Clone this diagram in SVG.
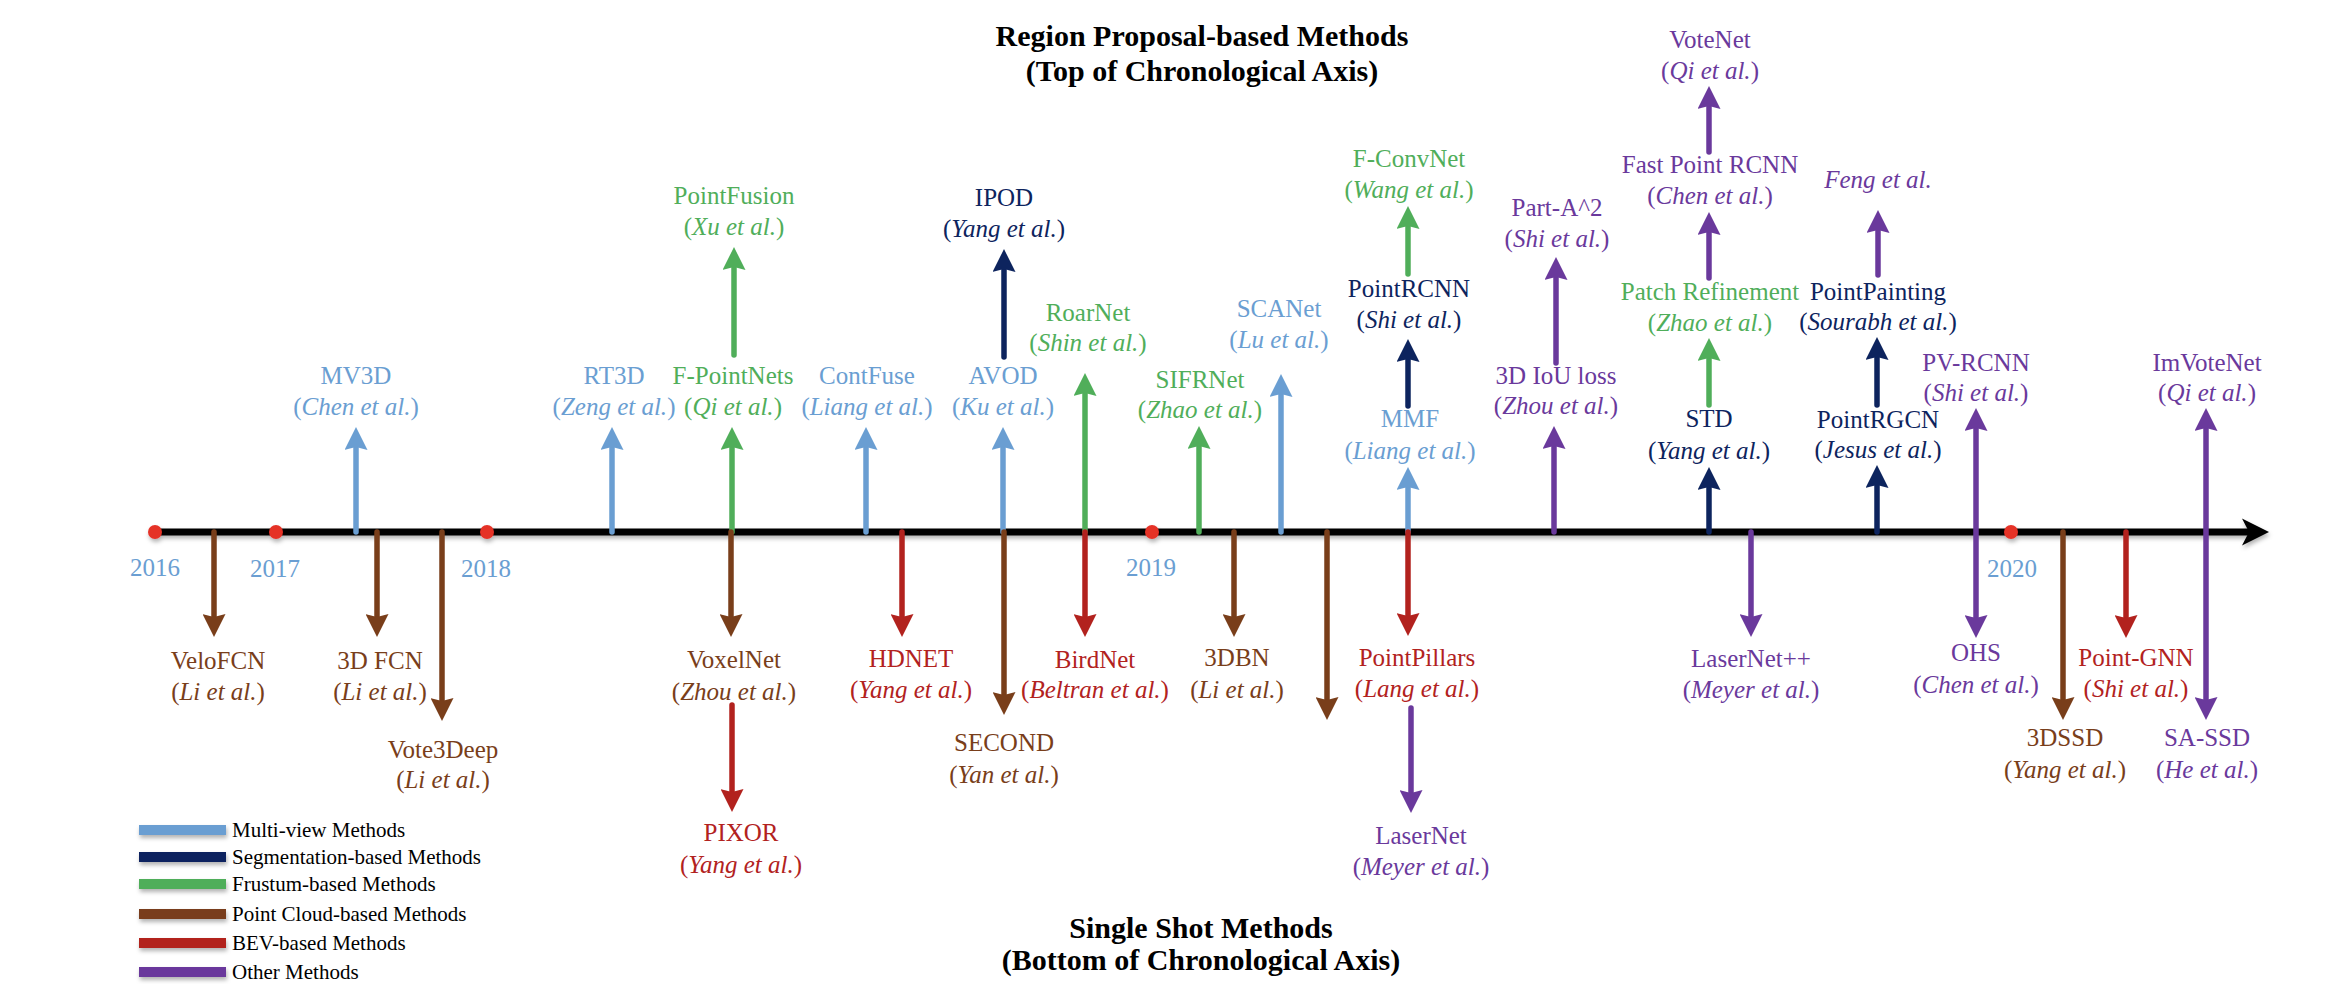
<svg xmlns="http://www.w3.org/2000/svg" width="2334" height="984" viewBox="0 0 2334 984">
<style>
text{font-family:"Liberation Serif","Times New Roman",serif}
.lbl{font-size:25px;text-anchor:middle}
.ttl{font-size:30px;font-weight:bold;text-anchor:middle;fill:#000}
.leg{font-size:21px;fill:#000}
.yr{font-size:25px;text-anchor:middle;fill:#6A9ED2}
.it{font-style:italic}
.mv{fill:#6A9ED2}.seg{fill:#0D245E}.fru{fill:#50AE5A}.pc{fill:#793E1A}.bev{fill:#B2221E}.oth{fill:#6A399C}
.a{stroke-width:5.5;stroke-linecap:round;fill:none}
.a.mv{stroke:#6A9ED2;fill:none}.a.seg{stroke:#0D245E;fill:none}.a.fru{stroke:#50AE5A;fill:none}.a.pc{stroke:#793E1A;fill:none}.a.bev{stroke:#B2221E;fill:none}.a.oth{stroke:#6A399C;fill:none}
.a.mv{marker-end:url(#h-mv)}.a.seg{marker-end:url(#h-seg)}.a.fru{marker-end:url(#h-fru)}.a.pc{marker-end:url(#h-pc)}.a.bev{marker-end:url(#h-bev)}.a.oth{marker-end:url(#h-oth)}
.dbl{marker-start:url(#h-oth)}
.dot{fill:#E53228}
</style>
<defs>
<filter id="sh" x="-10%" y="-50%" width="120%" height="250%"><feDropShadow dx="1" dy="3" stdDeviation="2" flood-color="#000" flood-opacity="0.3"/></filter>
<marker id="h-mv" viewBox="0 0 23 23" markerWidth="23" markerHeight="23" refX="13" refY="11.5" orient="auto-start-reverse" markerUnits="userSpaceOnUse"><path d="M0,0 L23,11.5 L0,23 L3,11.5 z" fill="#6A9ED2"/></marker>
<marker id="h-seg" viewBox="0 0 23 23" markerWidth="23" markerHeight="23" refX="13" refY="11.5" orient="auto-start-reverse" markerUnits="userSpaceOnUse"><path d="M0,0 L23,11.5 L0,23 L3,11.5 z" fill="#0D245E"/></marker>
<marker id="h-fru" viewBox="0 0 23 23" markerWidth="23" markerHeight="23" refX="13" refY="11.5" orient="auto-start-reverse" markerUnits="userSpaceOnUse"><path d="M0,0 L23,11.5 L0,23 L3,11.5 z" fill="#50AE5A"/></marker>
<marker id="h-pc" viewBox="0 0 23 23" markerWidth="23" markerHeight="23" refX="13" refY="11.5" orient="auto-start-reverse" markerUnits="userSpaceOnUse"><path d="M0,0 L23,11.5 L0,23 L3,11.5 z" fill="#793E1A"/></marker>
<marker id="h-bev" viewBox="0 0 23 23" markerWidth="23" markerHeight="23" refX="13" refY="11.5" orient="auto-start-reverse" markerUnits="userSpaceOnUse"><path d="M0,0 L23,11.5 L0,23 L3,11.5 z" fill="#B2221E"/></marker>
<marker id="h-oth" viewBox="0 0 23 23" markerWidth="23" markerHeight="23" refX="13" refY="11.5" orient="auto-start-reverse" markerUnits="userSpaceOnUse"><path d="M0,0 L23,11.5 L0,23 L3,11.5 z" fill="#6A399C"/></marker>
</defs>
<rect width="2334" height="984" fill="#fff"/>

<g id="titles">
<text class="ttl" x="1202" y="46">Region Proposal-based Methods</text>
<text class="ttl" x="1202" y="81">(Top of Chronological Axis)</text>
<text class="ttl" x="1201" y="938">Single Shot Methods</text>
<text class="ttl" x="1201" y="970">(Bottom of Chronological Axis)</text>
</g>

<g id="axis" filter="url(#sh)">
<line x1="155" y1="532" x2="2252" y2="532" stroke="#000" stroke-width="7"/>
<polygon points="2269,532 2242,518.5 2249,532 2242,545.5" fill="#000"/>
<circle class="dot" cx="155" cy="532" r="7"/>
<circle class="dot" cx="276" cy="532" r="7"/>
<circle class="dot" cx="487" cy="532" r="7"/>
<circle class="dot" cx="1152" cy="532" r="7"/>
<circle class="dot" cx="2011" cy="532" r="7"/>
</g>
<g id="years">
<text class="yr" x="155" y="576">2016</text>
<text class="yr" x="275" y="577">2017</text>
<text class="yr" x="486" y="577">2018</text>
<text class="yr" x="1151" y="576">2019</text>
<text class="yr" x="2012" y="577">2020</text>
</g>

<g id="connectors">
<!-- up arrows -->
<line class="a mv" x1="356" y1="532" x2="356" y2="437"/>
<line class="a mv" x1="612" y1="532" x2="612" y2="437"/>
<line class="a fru" x1="732" y1="532" x2="732" y2="437"/>
<line class="a fru" x1="734" y1="355" x2="734" y2="257"/>
<line class="a mv" x1="866" y1="532" x2="866" y2="437"/>
<line class="a mv" x1="1003" y1="532" x2="1003" y2="437"/>
<line class="a seg" x1="1004" y1="357" x2="1004" y2="259"/>
<line class="a fru" x1="1085" y1="532" x2="1085" y2="383"/>
<line class="a fru" x1="1199" y1="532" x2="1199" y2="436"/>
<line class="a mv" x1="1281" y1="532" x2="1281" y2="384"/>
<line class="a mv" x1="1408" y1="532" x2="1408" y2="477"/>
<line class="a seg" x1="1408" y1="406" x2="1408" y2="349"/>
<line class="a fru" x1="1408" y1="274" x2="1408" y2="216"/>
<line class="a oth" x1="1554" y1="532" x2="1554" y2="436"/>
<line class="a oth" x1="1556" y1="363" x2="1556" y2="267"/>
<line class="a seg" x1="1709" y1="532" x2="1709" y2="477"/>
<line class="a fru" x1="1709" y1="405" x2="1709" y2="348"/>
<line class="a oth" x1="1709" y1="278" x2="1709" y2="222"/>
<line class="a oth" x1="1709" y1="152" x2="1709" y2="96"/>
<line class="a seg" x1="1877" y1="532" x2="1877" y2="475"/>
<line class="a seg" x1="1877" y1="405" x2="1877" y2="347"/>
<line class="a oth" x1="1878" y1="275" x2="1878" y2="220"/>
<!-- double arrows -->
<line class="a oth dbl" x1="1976" y1="418" x2="1976" y2="628"/>
<line class="a oth dbl" x1="2206" y1="418" x2="2206" y2="710"/>
<!-- down arrows -->
<line class="a pc" x1="214" y1="532" x2="214" y2="627"/>
<line class="a pc" x1="377" y1="532" x2="377" y2="627"/>
<line class="a pc" x1="442" y1="532" x2="442" y2="711"/>
<line class="a pc" x1="731" y1="532" x2="731" y2="627"/>
<line class="a bev" x1="732" y1="705" x2="732" y2="802"/>
<line class="a bev" x1="902" y1="532" x2="902" y2="627"/>
<line class="a pc" x1="1004" y1="532" x2="1004" y2="705"/>
<line class="a bev" x1="1085" y1="532" x2="1085" y2="627"/>
<line class="a pc" x1="1234" y1="532" x2="1234" y2="627"/>
<line class="a pc" x1="1327" y1="532" x2="1327" y2="710"/>
<line class="a bev" x1="1408" y1="532" x2="1408" y2="626"/>
<line class="a oth" x1="1411" y1="708" x2="1411" y2="803"/>
<line class="a oth" x1="1751" y1="532" x2="1751" y2="627"/>
<line class="a pc" x1="2063" y1="532" x2="2063" y2="710"/>
<line class="a bev" x1="2126" y1="532" x2="2126" y2="628"/>
</g>

<!-- top nodes -->
<g id="MV3D"><text class="lbl mv" x="356" y="384">MV3D</text><text class="lbl mv" x="356" y="415">(<tspan class="it">Chen et al.</tspan>)</text></g>
<g id="RT3D"><text class="lbl mv" x="614" y="384">RT3D</text><text class="lbl mv" x="614" y="415">(<tspan class="it">Zeng et al.</tspan>)</text></g>
<g id="F-PointNets"><text class="lbl fru" x="733" y="384">F-PointNets</text><text class="lbl fru" x="733" y="415">(<tspan class="it">Qi et al.</tspan>)</text></g>
<g id="PointFusion"><text class="lbl fru" x="734" y="204">PointFusion</text><text class="lbl fru" x="734" y="235">(<tspan class="it">Xu et al.</tspan>)</text></g>
<g id="ContFuse"><text class="lbl mv" x="867" y="384">ContFuse</text><text class="lbl mv" x="867" y="415">(<tspan class="it">Liang et al.</tspan>)</text></g>
<g id="AVOD"><text class="lbl mv" x="1003" y="384">AVOD</text><text class="lbl mv" x="1003" y="415">(<tspan class="it">Ku et al.</tspan>)</text></g>
<g id="IPOD"><text class="lbl seg" x="1004" y="206">IPOD</text><text class="lbl seg" x="1004" y="237">(<tspan class="it">Yang et al.</tspan>)</text></g>
<g id="RoarNet"><text class="lbl fru" x="1088" y="321">RoarNet</text><text class="lbl fru" x="1088" y="351">(<tspan class="it">Shin et al.</tspan>)</text></g>
<g id="SIFRNet"><text class="lbl fru" x="1200" y="388">SIFRNet</text><text class="lbl fru" x="1200" y="418">(<tspan class="it">Zhao et al.</tspan>)</text></g>
<g id="SCANet"><text class="lbl mv" x="1279" y="317">SCANet</text><text class="lbl mv" x="1279" y="348">(<tspan class="it">Lu et al.</tspan>)</text></g>
<g id="MMF"><text class="lbl mv" x="1410" y="427">MMF</text><text class="lbl mv" x="1410" y="459">(<tspan class="it">Liang et al.</tspan>)</text></g>
<g id="PointRCNN"><text class="lbl seg" x="1409" y="297">PointRCNN</text><text class="lbl seg" x="1409" y="328">(<tspan class="it">Shi et al.</tspan>)</text></g>
<g id="F-ConvNet"><text class="lbl fru" x="1409" y="167">F-ConvNet</text><text class="lbl fru" x="1409" y="198">(<tspan class="it">Wang et al.</tspan>)</text></g>
<g id="IoULoss"><text class="lbl oth" x="1556" y="384">3D IoU loss</text><text class="lbl oth" x="1556" y="414">(<tspan class="it">Zhou et al.</tspan>)</text></g>
<g id="PartA2"><text class="lbl oth" x="1557" y="216">Part-A^2</text><text class="lbl oth" x="1557" y="247">(<tspan class="it">Shi et al.</tspan>)</text></g>
<g id="STD"><text class="lbl seg" x="1709" y="427">STD</text><text class="lbl seg" x="1709" y="459">(<tspan class="it">Yang et al.</tspan>)</text></g>
<g id="PatchRefinement"><text class="lbl fru" x="1710" y="300">Patch Refinement</text><text class="lbl fru" x="1710" y="331">(<tspan class="it">Zhao et al.</tspan>)</text></g>
<g id="FastPointRCNN"><text class="lbl oth" x="1710" y="173">Fast Point RCNN</text><text class="lbl oth" x="1710" y="204">(<tspan class="it">Chen et al.</tspan>)</text></g>
<g id="VoteNet"><text class="lbl oth" x="1710" y="48">VoteNet</text><text class="lbl oth" x="1710" y="79">(<tspan class="it">Qi et al.</tspan>)</text></g>
<g id="PointRGCN"><text class="lbl seg" x="1878" y="428">PointRGCN</text><text class="lbl seg" x="1878" y="458">(<tspan class="it">Jesus et al.</tspan>)</text></g>
<g id="PointPainting"><text class="lbl seg" x="1878" y="300">PointPainting</text><text class="lbl seg" x="1878" y="330">(<tspan class="it">Sourabh et al.</tspan>)</text></g>
<g id="Feng"><text class="lbl oth it" x="1878" y="188">Feng et al.</text></g>
<g id="PV-RCNN"><text class="lbl oth" x="1976" y="371">PV-RCNN</text><text class="lbl oth" x="1976" y="401">(<tspan class="it">Shi et al.</tspan>)</text></g>
<g id="ImVoteNet"><text class="lbl oth" x="2207" y="371">ImVoteNet</text><text class="lbl oth" x="2207" y="401">(<tspan class="it">Qi et al.</tspan>)</text></g>

<!-- bottom nodes -->
<g id="VeloFCN"><text class="lbl pc" x="218" y="669">VeloFCN</text><text class="lbl pc" x="218" y="700">(<tspan class="it">Li et al.</tspan>)</text></g>
<g id="FCN3D"><text class="lbl pc" x="380" y="669">3D FCN</text><text class="lbl pc" x="380" y="700">(<tspan class="it">Li et al.</tspan>)</text></g>
<g id="Vote3Deep"><text class="lbl pc" x="443" y="758">Vote3Deep</text><text class="lbl pc" x="443" y="788">(<tspan class="it">Li et al.</tspan>)</text></g>
<g id="VoxelNet"><text class="lbl pc" x="734" y="668">VoxelNet</text><text class="lbl pc" x="734" y="700">(<tspan class="it">Zhou et al.</tspan>)</text></g>
<g id="PIXOR"><text class="lbl bev" x="741" y="841">PIXOR</text><text class="lbl bev" x="741" y="873">(<tspan class="it">Yang et al.</tspan>)</text></g>
<g id="HDNET"><text class="lbl bev" x="911" y="667">HDNET</text><text class="lbl bev" x="911" y="698">(<tspan class="it">Yang et al.</tspan>)</text></g>
<g id="SECOND"><text class="lbl pc" x="1004" y="751">SECOND</text><text class="lbl pc" x="1004" y="783">(<tspan class="it">Yan et al.</tspan>)</text></g>
<g id="BirdNet"><text class="lbl bev" x="1095" y="668">BirdNet</text><text class="lbl bev" x="1095" y="698">(<tspan class="it">Beltran et al.</tspan>)</text></g>
<g id="DBN3"><text class="lbl pc" x="1237" y="666">3DBN</text><text class="lbl pc" x="1237" y="698">(<tspan class="it">Li et al.</tspan>)</text></g>
<g id="PointPillars"><text class="lbl bev" x="1417" y="666">PointPillars</text><text class="lbl bev" x="1417" y="697">(<tspan class="it">Lang et al.</tspan>)</text></g>
<g id="LaserNet"><text class="lbl oth" x="1421" y="844">LaserNet</text><text class="lbl oth" x="1421" y="875">(<tspan class="it">Meyer et al.</tspan>)</text></g>
<g id="LaserNetPP"><text class="lbl oth" x="1751" y="667">LaserNet++</text><text class="lbl oth" x="1751" y="698">(<tspan class="it">Meyer et al.</tspan>)</text></g>
<g id="OHS"><text class="lbl oth" x="1976" y="661">OHS</text><text class="lbl oth" x="1976" y="693">(<tspan class="it">Chen et al.</tspan>)</text></g>
<g id="SSD3D"><text class="lbl pc" x="2065" y="746">3DSSD</text><text class="lbl pc" x="2065" y="778">(<tspan class="it">Yang et al.</tspan>)</text></g>
<g id="Point-GNN"><text class="lbl bev" x="2136" y="666">Point-GNN</text><text class="lbl bev" x="2136" y="697">(<tspan class="it">Shi et al.</tspan>)</text></g>
<g id="SA-SSD"><text class="lbl oth" x="2207" y="746">SA-SSD</text><text class="lbl oth" x="2207" y="778">(<tspan class="it">He et al.</tspan>)</text></g>

<g id="legend">
<g filter="url(#sh)">
<rect x="139" y="825" width="87" height="10" fill="#6A9ED2"/>
<rect x="139" y="852" width="87" height="10" fill="#0D245E"/>
<rect x="139" y="879" width="87" height="10" fill="#50AE5A"/>
<rect x="139" y="909" width="87" height="10" fill="#793E1A"/>
<rect x="139" y="938" width="87" height="10" fill="#B2221E"/>
<rect x="139" y="967" width="87" height="10" fill="#6A399C"/>
</g>
<text class="leg" x="232" y="837">Multi-view Methods</text>
<text class="leg" x="232" y="864">Segmentation-based Methods</text>
<text class="leg" x="232" y="891">Frustum-based Methods</text>
<text class="leg" x="232" y="921">Point Cloud-based Methods</text>
<text class="leg" x="232" y="950">BEV-based Methods</text>
<text class="leg" x="232" y="979">Other Methods</text>
</g>
</svg>
